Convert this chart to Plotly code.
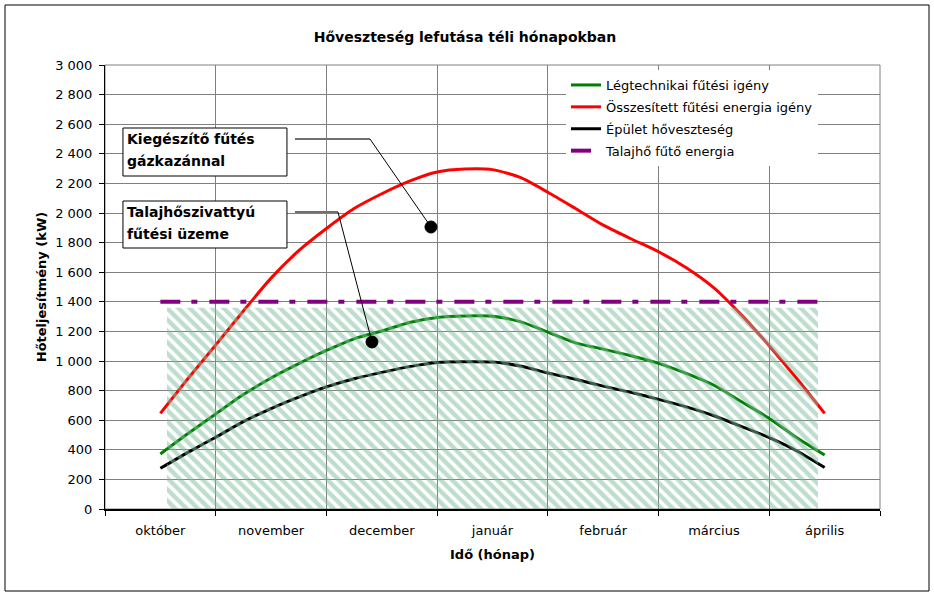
import plotly.graph_objects as go

# ---------------- data ----------------
months = ["október", "november", "december", "január", "február", "március", "április"]
month_pos = [0, 1, 2, 3, 4, 5, 6]

# time axis in month units (quarter-month steps, október = 0)
t = [0, 0.25, 0.5, 0.75, 1, 1.25, 1.5, 1.75, 2, 2.25, 2.5, 2.75, 3,
     3.25, 3.5, 3.75, 4, 4.25, 4.5, 4.75, 5, 5.25, 5.5, 5.75, 6]

legtechnikai = [372, 510, 642, 773, 885, 982, 1071, 1150, 1203, 1260, 1294, 1304, 1302,
                1266, 1195, 1122, 1080, 1035, 984, 916, 836, 725, 612, 482, 365]
osszesitett = [646, 882, 1108, 1338, 1560, 1745, 1895, 2030, 2130, 2215, 2277, 2297, 2293,
               2240, 2140, 2030, 1918, 1826, 1738, 1630, 1494, 1310, 1102, 880, 646]
epulet = [275, 383, 485, 590, 679, 756, 825, 880, 923, 962, 990, 995, 993,
          966, 919, 877, 830, 788, 741, 690, 630, 557, 482, 392, 280]
talajho_t = [0, 6]
talajho = [1400, 1400]

# hatched area: heat-pump operating range
hp_area_t = [0.06, 0.06, 5.94, 5.94, 0.06]
hp_area_v = [0, 1360, 1360, 0, 0]

y_ticks = [0, 200, 400, 600, 800, 1000, 1200, 1400, 1600, 1800, 2000, 2200, 2400, 2600, 2800, 3000]
y_ticktext = ["0", "200", "400", "600", "800", "1 000", "1 200", "1 400", "1 600", "1 800",
              "2 000", "2 200", "2 400", "2 600", "2 800", "3 000"]

names = ["Légtechnikai fűtési igény", "Összesített fűtési energia igény",
         "Épület hőveszteség", "Talajhő fűtő energia"]

FONT = "DejaVu Sans, Arial, sans-serif"

fig = go.Figure()
fig.add_trace(go.Scatter(x=t, y=legtechnikai, name=names[0], mode="lines", legendgroup="g1",
                         line=dict(color="#008000", width=3, shape="spline", smoothing=0.7)))
fig.add_trace(go.Scatter(x=t, y=osszesitett, name=names[1], mode="lines", legendgroup="g2",
                         line=dict(color="#FF0000", width=3, shape="spline", smoothing=0.7)))
fig.add_trace(go.Scatter(x=t, y=epulet, name=names[2], mode="lines", legendgroup="g3",
                         line=dict(color="#000000", width=3, shape="spline", smoothing=0.7)))
fig.add_trace(go.Scatter(x=talajho_t, y=talajho, name=names[3], mode="lines", legendgroup="g4",
                         line=dict(color="#800080", width=4, dash="20px,11px,6px,12px")))
fig.add_trace(go.Scatter(x=hp_area_t, y=hp_area_v, mode="lines", fill="toself", legendgroup="g5",
                         line=dict(width=0, color="rgba(0,0,0,0)"),
                         fillcolor="rgba(0,0,0,0)",
                         fillpattern=dict(shape="\\", fgcolor="#7cbb9c", bgcolor="rgba(0,0,0,0)",
                                          size=8, solidity=0.55),
                         showlegend=False, hoverinfo="skip"))

# ---------------- layout ----------------
px_x = lambda p: (p - 160.4) / 110.71
px_y = lambda p: (509 - p) / 0.148

shapes = []
# outer chart border (paper coords)
shapes.append(dict(type="rect", xref="paper", yref="paper",
                   x0=(5 - 105) / 775, x1=(929 - 105) / 775,
                   y0=(509 - 591) / 444, y1=(509 - 5) / 444,
                   line=dict(color="black", width=1), layer="below"))
# plot area border (gray)
shapes.append(dict(type="rect", xref="paper", yref="paper", x0=0, x1=1, y0=0, y1=1,
                   line=dict(color="#808080", width=1), layer="below"))

annotations = []
boxes = [
    (128, 176, ["Kiegészítő fűtés", "gázkazánnal"], [139, 161],
     [(295, 139), (370, 139)], (431, 227)),
    (201, 248, ["Talajhőszivattyú", "fűtési üzeme"], [212, 234],
     [(295, 212), (338, 212)], (372, 342)),
]
for top, bot, lines, ly, hseg, dot in boxes:
    shapes.append(dict(type="rect", xref="x", yref="y", x0=px_x(123), x1=px_x(287),
                       y0=px_y(bot), y1=px_y(top), line=dict(color="black", width=1),
                       fillcolor="white", layer="above"))
    for txt, yy in zip(lines, ly):
        annotations.append(dict(x=px_x(125), y=px_y(yy), xref="x", yref="y", text=txt,
                                showarrow=False, xanchor="left", yanchor="middle",
                                font=dict(family=FONT, size=14, color="black", weight="bold")))
    shapes.append(dict(type="line", xref="x", yref="y", x0=px_x(hseg[0][0]), y0=px_y(hseg[0][1]),
                       x1=px_x(hseg[1][0]), y1=px_y(hseg[1][1]),
                       line=dict(color="#707070", width=2), layer="above"))
    shapes.append(dict(type="line", xref="x", yref="y", x0=px_x(hseg[1][0]), y0=px_y(hseg[1][1]),
                       x1=px_x(dot[0]), y1=px_y(dot[1]),
                       line=dict(color="black", width=1), layer="above"))
    shapes.append(dict(type="circle", xref="x", yref="y", xsizemode="pixel", ysizemode="pixel",
                       xanchor=px_x(dot[0]), yanchor=px_y(dot[1]), x0=-6, x1=6, y0=-6, y1=6,
                       fillcolor="black", line=dict(color="black", width=1), layer="above"))

fig.update_layout(
    width=934, height=600,
    margin=dict(l=105, r=54, t=65, b=91, pad=0),
    paper_bgcolor="white", plot_bgcolor="white",
    font=dict(family=FONT, size=12, color="black"),
    title=dict(text="<b>Hőveszteség lefutása téli hónapokban</b>", x=(465) / 934, xanchor="center",
               y=1 - 37 / 600, yanchor="middle", font=dict(family=FONT, size=14, color="black")),
    showlegend=True,
    legend=dict(x=(566 - 105) / 775, y=(509 - 70) / 444, xanchor="left", yanchor="top",
                bgcolor="white", borderwidth=0, font=dict(family=FONT, size=13, color="black"),
                itemwidth=30, traceorder="grouped", tracegroupgap=2),
    shapes=shapes,
    annotations=annotations,
    xaxis=dict(range=[-0.5, 6.5], tickmode="array", tickvals=month_pos, ticktext=months,
               ticks="", showgrid=False, zeroline=False,
               showline=True, linecolor="black", linewidth=1.5,
               tickfont=dict(family=FONT, size=13, color="black"), ticklabelstandoff=9,
               minor=dict(tickmode="array", tickvals=[-0.5, 0.5, 1.5, 2.5, 3.5, 4.5, 5.5, 6.5],
                          ticks="outside", ticklen=5, tickcolor="black", tickwidth=1,
                          showgrid=True, gridcolor="#808080", gridwidth=1),
               title=dict(text="<b>Idő (hónap)</b>", standoff=13,
                          font=dict(family=FONT, size=13, color="black"))),
    yaxis=dict(range=[0, 3000], tickmode="array", tickvals=y_ticks, ticktext=y_ticktext,
               ticks="outside", ticklen=5, tickcolor="black", showgrid=True, gridcolor="#808080",
               gridwidth=1, zeroline=False, showline=True, linecolor="black", linewidth=1,
               tickfont=dict(family=FONT, size=13, color="black"), ticklabelstandoff=4,
               title=dict(text="<b>Hőteljesítmény (kW)</b>", standoff=5,
                          font=dict(family=FONT, size=13, color="black"))),
)

fig.write_html("out.html", config={"displayModeBar": False},
               post_script="document.body.style.margin='0';")
